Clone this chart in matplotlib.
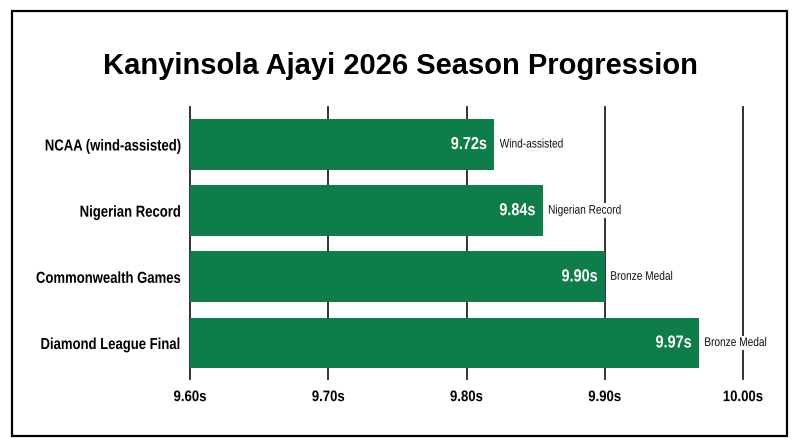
import matplotlib
matplotlib.use("Agg")
import matplotlib.pyplot as plt
from matplotlib.patches import Rectangle
from matplotlib.patheffects import AbstractPathEffect
from matplotlib.transforms import Affine2D

categories = ["NCAA (wind-assisted)", "Nigerian Record", "Commonwealth Games", "Diamond League Final"]
bar_values = [9.82, 9.855, 9.90, 9.968]
value_labels = ["9.72s", "9.84s", "9.90s", "9.97s"]
notes = ["Wind-assisted", "Nigerian Record", "Bronze Medal", "Bronze Medal"]
xticks = [9.60, 9.70, 9.80, 9.90, 10.00]
xtick_labels = ["9.60s", "9.70s", "9.80s", "9.90s", "10.00s"]
title = "Kanyinsola Ajayi 2026 Season Progression"

FONT = ["Liberation Sans", "DejaVu Sans"]
GREEN = "#0F7D49"


class Condense(AbstractPathEffect):
    """Horizontally compress text glyphs to mimic a condensed typeface."""

    def __init__(self, sx=0.82, anchor="left"):
        super().__init__()
        self.sx = sx
        self.anchor = anchor

    def draw_path(self, renderer, gc, tpath, affine, rgbFace=None):
        xs = tpath.vertices[:, 0]
        if len(xs) == 0:
            return
        if self.anchor == "right":
            a = xs.max()
        elif self.anchor == "center":
            a = (xs.min() + xs.max()) / 2
        else:
            a = 0.0
        t = Affine2D().translate(-a, 0).scale(self.sx, 1).translate(a, 0)
        renderer.draw_path(gc, tpath, t + affine, rgbFace)


W, H = 800, 447
fig = plt.figure(figsize=(W / 100, H / 100), dpi=100)
fig.patch.set_facecolor("white")

ax = fig.add_axes([190 / W, 1 - 379 / H, (743 - 190) / W, (379 - 107) / H])
ax.set_xlim(9.60, 10.00)
ax.set_ylim(3.544, -0.567)
for s in ax.spines.values():
    s.set_visible(False)

for xv in xticks:
    ax.axvline(xv, color="#222222", lw=1.3, zorder=1, clip_on=False)

ypos = list(range(len(categories)))
base = 9.60
ax.barh(ypos, [v - base for v in bar_values], left=base, height=0.77,
        color=GREEN, zorder=2)

for y, v, lab, note in zip(ypos, bar_values, value_labels, notes):
    ax.annotate(lab, (v, y), xytext=(-5, 0), textcoords="offset points",
                ha="right", va="center", color="white", fontsize=12.5,
                fontweight="bold", family=FONT, zorder=3,
                path_effects=[Condense(0.83, "right")])
    ax.annotate(note, (v, y), xytext=(4, 0), textcoords="offset points",
                ha="left", va="center", color="#111111", fontsize=9,
                family=FONT, zorder=3, clip_on=False,
                path_effects=[Condense(0.81, "left")],
                bbox=dict(boxstyle="square,pad=0.1", fc="white", ec="none"))

ax.set_yticks(ypos)
ax.set_yticklabels(categories, fontsize=11.5, fontweight="bold", family=FONT)
ax.set_xticks(xticks)
ax.set_xticklabels(xtick_labels, fontsize=11, fontweight="bold", family=FONT)
ax.tick_params(axis="both", length=0)
ax.tick_params(axis="y", pad=6)
ax.tick_params(axis="x", pad=8)
for lbl in ax.get_yticklabels():
    lbl.set_path_effects([Condense(0.82, "right")])
for lbl in ax.get_xticklabels():
    lbl.set_path_effects([Condense(0.86, "center")])

fig.text(400 / W, 1 - 66 / H, title, ha="center", va="center",
         fontsize=21, fontweight="bold", family=FONT)

fig.patches.append(Rectangle((12 / W, 1 - 436 / H), (787 - 12) / W, (436 - 10.5) / H,
                             transform=fig.transFigure, fill=False,
                             ec="black", lw=1.6))

fig.savefig("out.png", dpi=100)
